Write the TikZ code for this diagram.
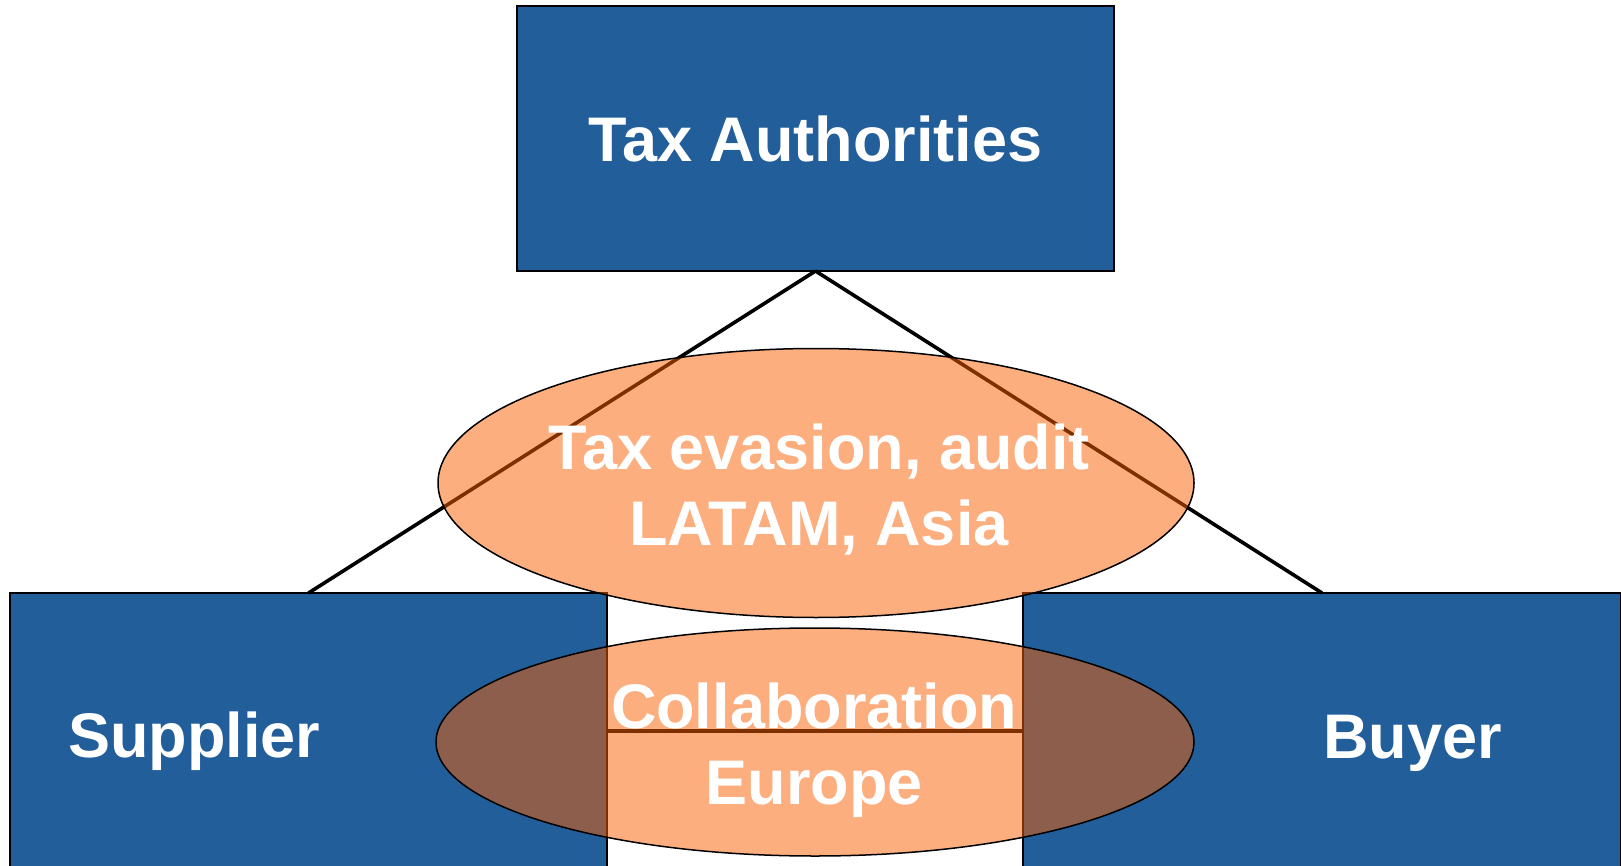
\documentclass[tikz,border=0pt]{standalone}
\usepackage{fontspec}
\setmainfont{Liberation Sans}
\usetikzlibrary{shapes.geometric}
\definecolor{boxblue}{RGB}{34,94,154}
\definecolor{ovalorange}{RGB}{250,95,0}
\tikzset{
  bluebox/.style={draw=black, line width=1.5pt, fill=boxblue, rectangle, inner sep=0pt, outer sep=0pt},
  oval/.style={ellipse, draw=black, line width=1.5pt, fill=ovalorange, fill opacity=0.5, draw opacity=1, inner sep=0pt, outer sep=0pt},
  label/.style={text=white, font=\bfseries\fontsize{63}{76}\selectfont, inner sep=0pt, align=center},
  link/.style={draw=black, line width=3.6pt},
  crossbar/.style={draw=black, line width=4pt}
}
\begin{document}
\begin{tikzpicture}[x=1pt, y=-1pt]
\useasboundingbox (0,0) rectangle (1621,866);
\clip (0,0) rectangle (1621,866);
\fill[white] (0,0) rectangle (1621,866);
% boxes
\node[bluebox, minimum width=597pt, minimum height=265pt, label] (tax) at (815.5,138.5) {Tax Authorities};
\node[bluebox, minimum width=597pt, minimum height=276pt] (supplier) at (308.5,731) {};
\node[bluebox, minimum width=598pt, minimum height=276pt] (buyer) at (1322,731) {};
% connectors
\draw[link] (tax.south) -- (supplier.north);
\draw[link] (tax.south) -- (buyer.north);
\draw[crossbar] (supplier.east) -- (buyer.west);
% ovals
\node[oval, minimum width=756pt, minimum height=269pt] (upperoval) at (816,483) {};
\node[oval, minimum width=758pt, minimum height=228pt] (loweroval) at (815,742) {};
% labels
\node[label, anchor=base west] (supplierlabel) at (68,757) {Supplier};
\node[label, anchor=base west] (buyerlabel) at (1323,758) {Buyer};
\node[label] (uppertext) at (819,490) {Tax evasion, audit\\LATAM, Asia};
\node[label] (lowertext) at (814,750) {Collaboration\\Europe};
\end{tikzpicture}
\end{document}
